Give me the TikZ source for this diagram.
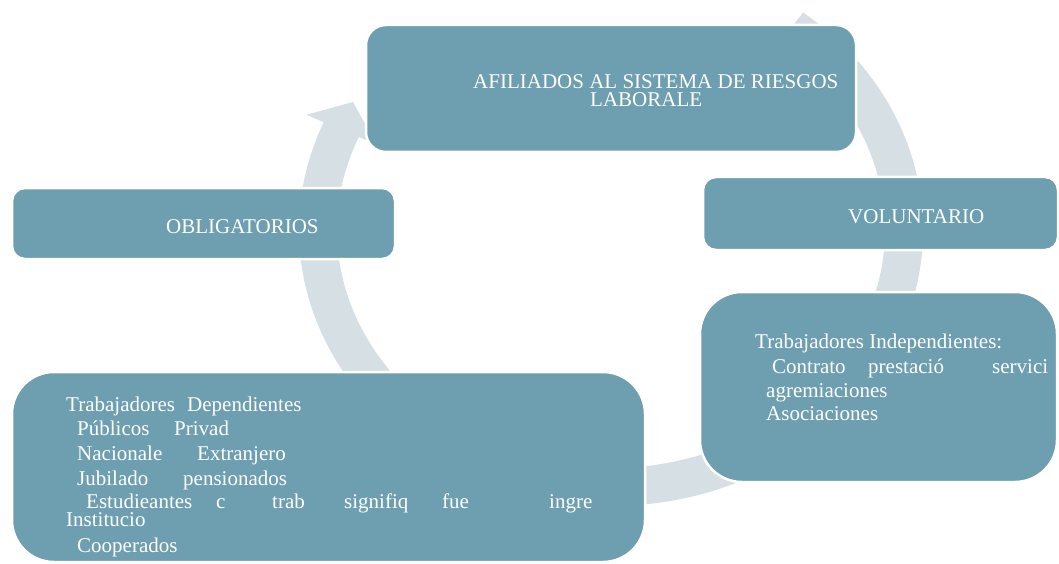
\documentclass[tikz,border=0pt]{standalone}
\usepackage{fontspec}
\setmainfont{Liberation Serif}
\definecolor{boxfill}{RGB}{110,159,176}
\definecolor{ringfill}{RGB}{214,223,228}
\tikzset{
  box/.style={rectangle, fill=boxfill, draw=white, line width=2.5pt, inner sep=0pt},
  txt/.style={anchor=base west, inner sep=0pt, text=white, font=\fontsize{21pt}{21pt}\selectfont},
}
\begin{document}
\begin{tikzpicture}[x=1pt,y=1pt]
\useasboundingbox (0,0) rectangle (1059,-564);
\fill[white] (0,0) rectangle (1059,-564);
% cycle ring (one big curved arrow behind the boxes)
\fill[ringfill] ([shift={(611,-230)}]52:312 and 276)
  arc[start angle=52, end angle=-203, x radius=312, y radius=276]
  -- (306.3,-114.8) -- (353,-102) -- (376.3,-144.4)
  -- ([shift={(611,-230)}]157:274 and 238)
  arc[start angle=-203, end angle=52, x radius=274, y radius=238]
  -- cycle;
% boxes
\node[box, minimum width=490pt, minimum height=127pt, rounded corners=20pt] (afil) at (611,-88.5) {};
\node[box, minimum width=355pt, minimum height=73pt, rounded corners=13pt] (vol) at (880.5,-213.5) {};
\node[box, minimum width=383pt, minimum height=71pt, rounded corners=13pt] (obl) at (203.5,-223.5) {};
\node[box, minimum width=357pt, minimum height=190pt, rounded corners=42pt] (ind) at (878.5,-387) {};
\node[box, minimum width=633pt, minimum height=190pt, rounded corners=42pt] (dep) at (328.5,-467) {};
% texts
\node[txt] (afil1) at (473,-89) {AFILIADOS AL SISTEMA DE RIESGOS};
\node[txt] (afil2) at (590,-107) {LABORALE};
\node[txt] (volt) at (848,-223) {VOLUNTARIO};
\node[txt] (oblt) at (166,-233) {OBLIGATORIOS};
\node[txt] (ind1) at (755,-348) {Trabajadores Independientes:};
\node[txt] (ind2) at (772,-373) {\makebox[96pt][l]{Contrato}\makebox[124pt][l]{prestació}servici};
\node[txt] (ind3) at (766,-397) {agremiaciones};
\node[txt] (ind4) at (766,-420) {Asociaciones};
\node[txt] (dep1) at (66,-411) {\makebox[121pt][l]{Trabajadores}Dependientes};
\node[txt] (dep2) at (77,-435) {\makebox[97pt][l]{Públicos}Privad};
\node[txt] (dep3) at (77,-460) {\makebox[120pt][l]{Nacionale}Extranjero};
\node[txt] (dep4) at (77,-485) {\makebox[106pt][l]{Jubilado}pensionados};
\node[txt] (dep5) at (86,-508) {\makebox[130pt][l]{Estudieantes}\makebox[56pt][l]{c}\makebox[72pt][l]{trab}\makebox[98pt][l]{signifiq}\makebox[107pt][l]{fue}ingre};
\node[txt] (dep6) at (66,-526) {Institucio};
\node[txt] (dep7) at (77,-552) {Cooperados};
\end{tikzpicture}
\end{document}
